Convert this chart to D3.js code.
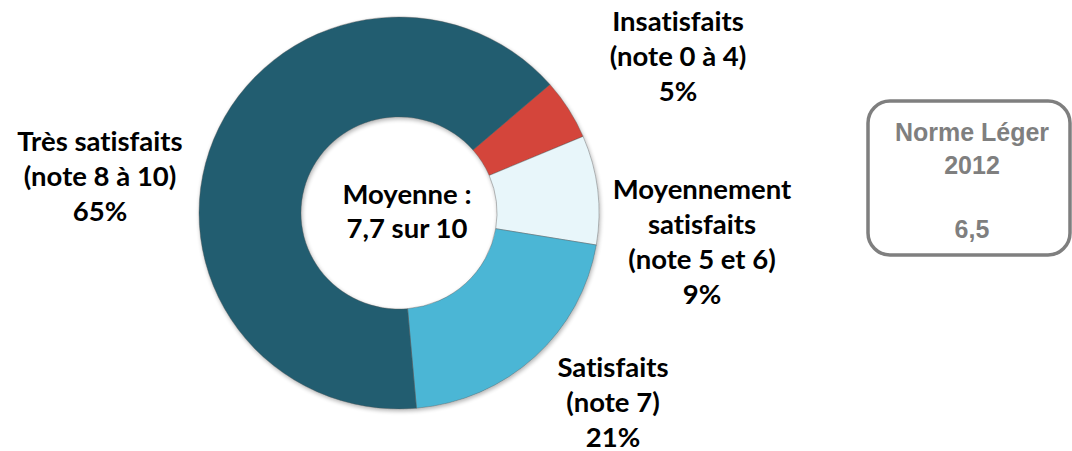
<!DOCTYPE html>
<html>
<head>
<meta charset="utf-8">
<script src="https://cdn.jsdelivr.net/npm/d3@7/dist/d3.min.js"></script>
<style>
  html, body { margin: 0; padding: 0; background: #fff; }
  svg { display: block; }
  .lbl { font-family: Lato, "Open Sans", sans-serif; font-weight: 700; fill: #000; font-variant-ligatures: none; }
  .norme { font-family: "Liberation Sans", Arial, sans-serif; font-weight: 700; fill: #7f7f7f; }
</style>
</head>
<body>
<svg id="chart" width="1072" height="451"></svg>
<script>
// data
var categories = ["Insatisfaits", "Moyennement satisfaits", "Satisfaits", "Très satisfaits"];
var values = [5, 9, 21, 65];
var colors = ["#d4453a", "#e8f6fa", "#4bb6d5", "#225d70"];
var labelLines = [
  ["Insatisfaits", "(note 0 à 4)", "5%"],
  ["Moyennement", "satisfaits", "(note 5 et 6)", "9%"],
  ["Satisfaits", "(note 7)", "21%"],
  ["Très satisfaits", "(note 8 à 10)", "65%"]
];
var centerLines = ["Moyenne :", "7,7 sur 10"];
var normeLines = ["Norme Léger", "2012", "6,5"];

var svg = d3.select("#chart");
var cx = 399, cy = 213, outerR = 200, innerR = 98;

var defs = svg.append("defs");
var f = defs.append("filter").attr("id", "shadow").attr("x", "-20%").attr("y", "-20%").attr("width", "140%").attr("height", "140%");
f.append("feGaussianBlur").attr("in", "SourceAlpha").attr("stdDeviation", 2);
f.append("feOffset").attr("dx", 1).attr("dy", 2).attr("result", "b");
f.append("feComponentTransfer").append("feFuncA").attr("type", "linear").attr("slope", 0.3);
var m = f.append("feMerge");
m.append("feMergeNode");
m.append("feMergeNode").attr("in", "SourceGraphic");

var pie = d3.pie().sort(null).value(function(d) { return d; })
  .startAngle(49 * Math.PI / 180).endAngle(49 * Math.PI / 180 + 2 * Math.PI);
var arc = d3.arc().innerRadius(innerR).outerRadius(outerR);

var g = svg.append("g")
  .attr("transform", "translate(" + cx + "," + cy + ") scale(1,0.98)")
  .attr("filter", "url(#shadow)");

g.selectAll("path.slice")
  .data(pie(values))
  .enter().append("path")
  .attr("class", "slice")
  .attr("d", arc)
  .attr("fill", function(d, i) { return colors[i]; })
  .attr("stroke", "#555")
  .attr("stroke-opacity", 0.5)
  .attr("stroke-width", 0.8);

// outside labels
var labelPos = [[678, 20], [702, 188], [613, 366], [100, 140]];
var lineH = 35;
labelLines.forEach(function(lines, i) {
  var t = svg.append("text").attr("class", "lbl")
    .attr("text-anchor", "middle")
    .attr("font-size", 27.5);
  lines.forEach(function(s, j) {
    t.append("tspan").attr("x", labelPos[i][0]).attr("y", labelPos[i][1] + j * lineH)
      .attr("dominant-baseline", "central").text(s);
  });
});

// center
var ct = svg.append("text").attr("class", "lbl").attr("text-anchor", "middle").attr("font-size", 27.5);
centerLines.forEach(function(s, j) {
  ct.append("tspan").attr("x", 407).attr("y", 193 + j * 34).attr("dominant-baseline", "central").text(s);
});

// Norme box
svg.append("rect")
  .attr("x", 868).attr("y", 101).attr("width", 202).attr("height", 154)
  .attr("rx", 22).attr("ry", 22)
  .attr("fill", "#fff").attr("stroke", "#7f7f7f").attr("stroke-width", 3.5);
var nt = svg.append("text").attr("class", "norme").attr("text-anchor", "middle").attr("font-size", 25);
[132, 165, 229].forEach(function(y, j) {
  nt.append("tspan").attr("x", 972).attr("y", y).attr("dominant-baseline", "central").text(normeLines[j]);
});
</script>
</body>
</html>
